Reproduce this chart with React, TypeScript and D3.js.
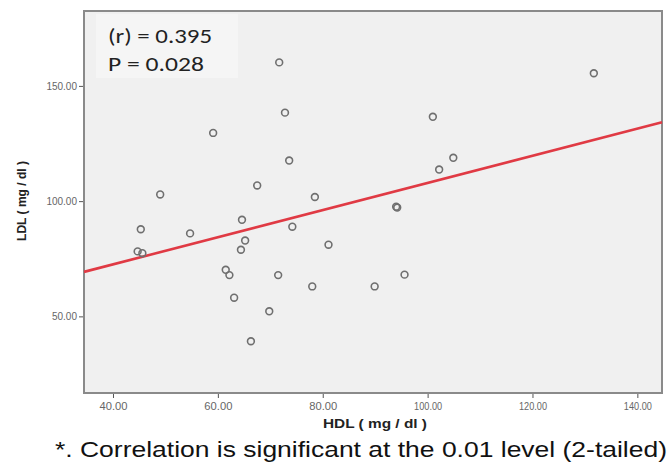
import React, { useEffect, useRef } from "react";
import * as d3 from "d3";

// HDL (x) / LDL (y) pairs
const hdl = [71.7, 72.8, 59.1, 73.6, 67.5, 49.0, 78.5, 101.0, 104.9, 102.2, 131.7, 94.0, 94.2,
  45.3, 54.7, 64.6, 74.2, 65.2, 64.4, 44.7, 45.6, 81.1, 61.5, 62.2, 71.5, 78.0, 95.6, 89.9, 63.1, 69.8, 66.3];
const ldl = [160.2, 138.4, 129.6, 117.6, 106.8, 102.9, 101.8, 136.6, 118.8, 113.7, 155.5, 97.6, 97.2,
  87.8, 86.0, 91.9, 88.9, 82.9, 78.9, 78.2, 77.4, 81.1, 70.2, 67.9, 67.9, 63.0, 68.1, 63.0, 58.1, 52.2, 39.2];

const xTicks = [40, 60, 80, 100, 120, 140];
const yTicks = [50, 100, 150];

// fit line as drawn
const fitIntercept = 49.0;
const fitSlope = 0.589;

const statLines = ["(r) = 0.395", "P = 0.028"];
const footnote = "*. Correlation is significant at the 0.01 level (2-tailed)";

export default function App() {
  const ref = useRef<SVGSVGElement>(null);

  useEffect(() => {
    const svg = d3.select(ref.current);
    svg.selectAll("*").remove();

    const left = 84, top = 11, right = 662, bottom = 393;
    const x = d3.scaleLinear().domain([34.47, 144.7]).range([left, right]);
    const y = d3.scaleLinear().domain([16.75, 182.5]).range([bottom, top]);

    svg.append("rect")
      .attr("x", left).attr("y", top)
      .attr("width", right - left).attr("height", bottom - top)
      .attr("fill", "#f0f0f0")
      .attr("stroke", "#8a8a8a")
      .attr("stroke-width", 2);

    // lighter box behind stats
    svg.append("rect")
      .attr("x", 96).attr("y", 14)
      .attr("width", 142).attr("height", 64)
      .attr("fill", "#f5f5f5");

    const g = svg.append("g");
    const lineX = x.domain();
    g.append("line")
      .attr("x1", x(lineX[0])).attr("y1", y(fitIntercept + fitSlope * lineX[0]))
      .attr("x2", x(lineX[1])).attr("y2", y(fitIntercept + fitSlope * lineX[1]))
      .attr("stroke", "#e03a44")
      .attr("stroke-width", 2.6);

    g.selectAll("circle")
      .data(d3.range(hdl.length))
      .join("circle")
      .attr("cx", (i) => x(hdl[i]))
      .attr("cy", (i) => y(ldl[i]))
      .attr("r", 3.4)
      .attr("fill", "none")
      .attr("stroke", "#6f6f6f")
      .attr("stroke-width", 1.6);

    // x axis
    const xa = svg.append("g")
      .attr("transform", `translate(0,${bottom + 1})`)
      .call(d3.axisBottom(x).tickValues(xTicks).tickFormat(d3.format(".2f")).tickSize(4).tickSizeOuter(0));
    xa.select(".domain").remove();
    xa.selectAll("line").attr("stroke", "#555");
    xa.selectAll("text")
      .attr("fill", "#666")
      .attr("font-size", 10)
      .attr("font-family", "Arial, 'Liberation Sans', sans-serif")
      .attr("textLength", 28)
      .attr("lengthAdjust", "spacingAndGlyphs")
      .attr("dy", "0.9em");

    // y axis
    const ya = svg.append("g")
      .attr("transform", `translate(${left - 1},0)`)
      .call(d3.axisLeft(y).tickValues(yTicks).tickFormat(d3.format(".2f")).tickSize(4).tickSizeOuter(0));
    ya.select(".domain").remove();
    ya.selectAll("line").attr("stroke", "#555");
    ya.selectAll("text")
      .attr("fill", "#666")
      .attr("font-size", 10)
      .attr("font-family", "Arial, 'Liberation Sans', sans-serif")
      .attr("x", -6);

    svg.append("text")
      .attr("x", 375).attr("y", 428)
      .attr("text-anchor", "middle")
      .attr("font-family", "Arial, 'Liberation Sans', sans-serif")
      .attr("font-weight", "bold")
      .attr("font-size", 12)
      .attr("textLength", 104)
      .attr("lengthAdjust", "spacingAndGlyphs")
      .attr("fill", "#222")
      .text("HDL ( mg / dl )");

    svg.append("text")
      .attr("transform", "translate(26,201) rotate(-90)")
      .attr("text-anchor", "middle")
      .attr("font-family", "Arial, 'Liberation Sans', sans-serif")
      .attr("font-weight", "bold")
      .attr("font-size", 12)
      .attr("fill", "#222")
      .text("LDL ( mg / dl )");

    const statWidths = [104, 96];
    svg.append("g").selectAll("text")
      .data(statLines)
      .join("text")
      .attr("x", 108)
      .attr("y", (_, i) => 43 + i * 28)
      .attr("font-family", "Carlito, Calibri, 'Open Sans', sans-serif")
      .attr("font-size", 21)
      .attr("textLength", (_, i) => statWidths[i])
      .attr("lengthAdjust", "spacingAndGlyphs")
      .attr("fill", "#222")
      .text((d) => d);

    svg.append("text")
      .attr("x", 55).attr("y", 457)
      .attr("font-family", "Arial, 'Liberation Sans', sans-serif")
      .attr("font-size", 22)
      .attr("textLength", 612)
      .attr("lengthAdjust", "spacingAndGlyphs")
      .attr("fill", "#111")
      .text(footnote);
  }, []);

  return (
    <svg ref={ref} width={669} height={466}
      style={{ position: "absolute", left: 0, top: 0, background: "#fff" }} />
  );
}
